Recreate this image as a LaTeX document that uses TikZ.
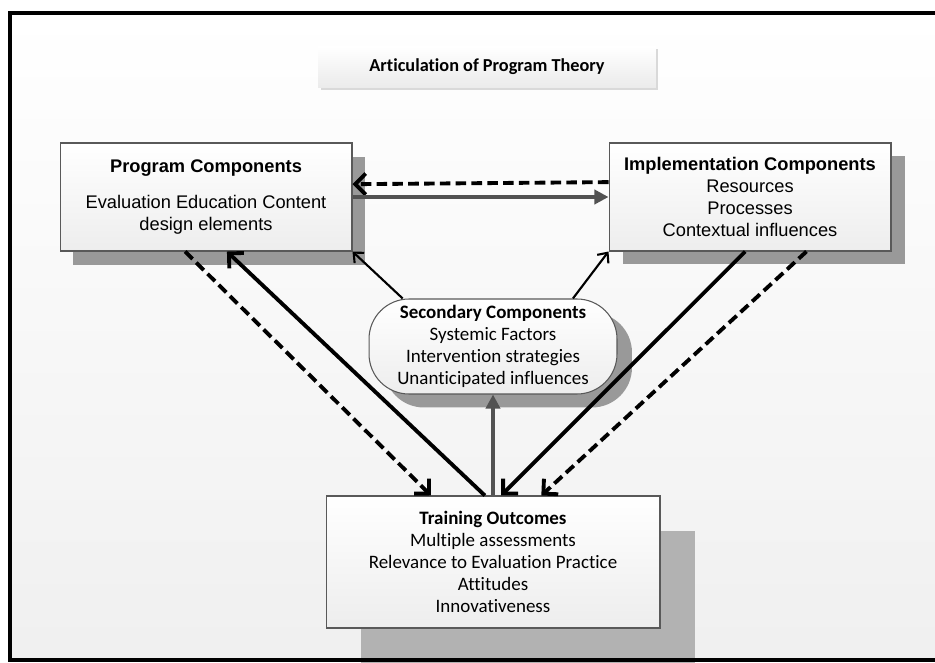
\documentclass[tikz,border=0pt]{standalone}
\usepackage{fontspec}
\setmainfont{Carlito}[Ligatures=NoCommon]
\newfontfamily\arialfont{Liberation Sans}
\usetikzlibrary{arrows.meta, shadows}

\begin{document}
\begin{tikzpicture}[x=0.02cm, y=-0.02cm,
  box/.style={rectangle, draw=black!65, line width=0.6pt, top color=white, bottom color=black!7, inner sep=0pt, align=center},
  calibri/.style={font=\fontsize{10.8}{12.6}\selectfont},
  arial/.style={font=\arialfont\fontsize{10.4}{12.5}\selectfont},
  thick arrow/.style={line width=2.2pt, -{Straight Barb[length=6pt, width=12pt]}},
  dash arrow/.style={thick arrow, dash pattern=on 6pt off 3pt},
  thin arrow/.style={line width=1.2pt, -{Straight Barb[length=4.5pt, width=8pt]}},
  gray arrow/.style={line width=2pt, draw=black!68, -{Triangle[length=8pt, width=8pt]}}]
\useasboundingbox (0,0) rectangle (935,662);
\shade[top color=white, bottom color=black!6] (10,13) rectangle (980,660);

\node[box, draw=none, bottom color=black!8, minimum width=6.76cm, minimum height=0.84cm, drop shadow={shadow xshift=0.05cm, shadow yshift=-0.05cm, fill=black!15, opacity=1}, font=\bfseries\fontsize{10.4}{12.5}\selectfont] (title) at (487,67) {Articulation of Program Theory};
\node[box, arial, minimum width=5.84cm, minimum height=2.16cm, drop shadow={shadow xshift=0.26cm, shadow yshift=-0.28cm, fill=black!40, opacity=1}] (prog) at (206,197) {\textbf{Program Components}\\[8pt]Evaluation Education Content\\design elements};
\node[box, arial, minimum width=5.64cm, minimum height=2.16cm, drop shadow={shadow xshift=0.28cm, shadow yshift=-0.26cm, fill=black!40, opacity=1}] (impl) at (750,197) {\textbf{Implementation Components}\\Resources\\Processes\\Contextual influences};
\node[box, calibri, rounded corners=0.8cm, minimum width=4.96cm, minimum height=1.9cm, drop shadow={shadow xshift=0.3cm, shadow yshift=-0.27cm, fill=black!40, opacity=1}] (sec) at (493,346.5) {\textbf{Secondary Components}\\Systemic Factors\\Intervention strategies\\Unanticipated influences};
\node[box, calibri, minimum width=6.68cm, minimum height=2.64cm, drop shadow={shadow xshift=0.7cm, shadow yshift=-0.7cm, fill=black!30, opacity=1}] (train) at (493,562) {\textbf{Training Outcomes}\\Multiple assessments\\Relevance to Evaluation Practice\\Attitudes\\Innovativeness};

\draw[dash arrow] (impl.174.3) -- (prog.5.5);
\draw[gray arrow] (prog.east) -- (impl.west);
\draw[thin arrow] (sec.152) -- (prog.south east);
\draw[thin arrow] (sec.31) -- (impl.south west);
\draw[dash arrow] (prog.-111) -- (train.133);
\draw[thick arrow] (train.97) -- (prog.-69);
\draw[thick arrow] (impl.-95) -- (train.83);
\draw[dash arrow] (impl.-44.5) -- (train.54.5);
\draw[gray arrow] (train.north) -- (sec.south);

\draw[line width=2.4pt] (10,13) rectangle (980,660);
\end{tikzpicture}
\end{document}
